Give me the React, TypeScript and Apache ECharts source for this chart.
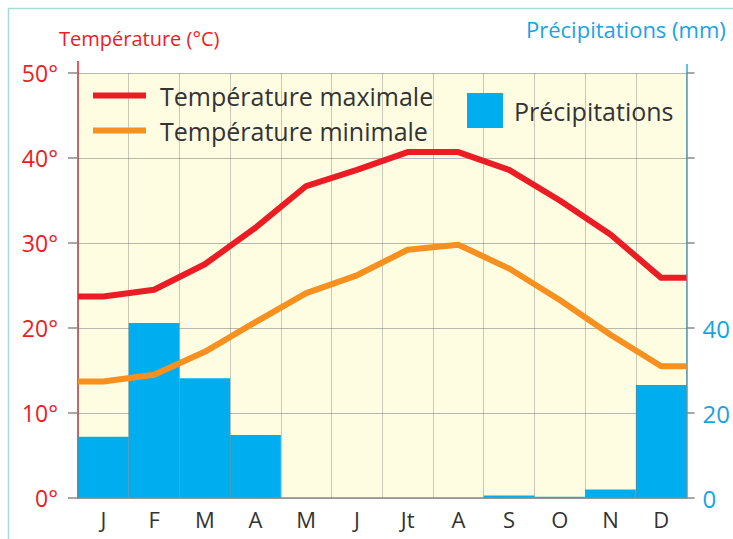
import React, { useEffect, useRef } from "react";
import * as echarts from "echarts";

const months = ["J", "F", "M", "A", "M", "J", "Jt", "A", "S", "O", "N", "D"];
const tempMax = [23.7, 24.5, 27.5, 31.8, 36.7, 38.6, 40.7, 40.7, 38.6, 35.0, 31.0, 25.9];
const tempMin = [13.7, 14.5, 17.2, 20.7, 24.1, 26.2, 29.2, 29.8, 27.0, 23.3, 19.2, 15.5];
const precip = [14.4, 41.2, 28.2, 14.8, 0, 0, 0, 0, 0.6, 0.3, 2.0, 26.6];
const tempTicks = [0, 10, 20, 30, 40, 50];
const precipLabels = [0, 20, 40];

const RED = "#ec1c24";
const ORANGE = "#f7901e";
const BLUE = "#00aeef";
const FONT = "Open Sans";

// line points at month centres, extended flat to the plot edges
function linePoints(vals: number[]) {
  const pts: number[][] = vals.map((v, i) => [i + 0.5, v]);
  return [[0, vals[0]], ...pts, [vals.length, vals[vals.length - 1]]];
}

export default function App() {
  const ref = useRef<HTMLDivElement>(null);
  useEffect(() => {
    if (!ref.current) return;
    const chart = echarts.init(ref.current, null, { renderer: "svg" });
    chart.setOption({
      animation: false,
      backgroundColor: "#ffffff",
      textStyle: { fontFamily: FONT },
      grid: {
        left: 78,
        right: 46,
        top: 73,
        bottom: 41,
        show: true,
        backgroundColor: "#fefde2",
        borderWidth: 0,
      },
      legend: [
        {
          data: ["Température maximale", "Température minimale"],
          orient: "vertical",
          left: 93,
          top: 83,
          padding: 0,
          icon: "rect",
          itemWidth: 53,
          itemHeight: 6,
          itemGap: 10,
          textStyle: { fontFamily: FONT, fontSize: 25, color: "#333", padding: [0, 0, 0, 9] },
        },
        {
          data: ["Précipitations"],
          left: 467,
          top: 93,
          padding: 0,
          icon: "rect",
          itemWidth: 36,
          itemHeight: 35,
          textStyle: { fontFamily: FONT, fontSize: 25, color: "#333", padding: [0, 0, 0, 6] },
        },
      ],
      xAxis: [
        {
          type: "category",
          data: months,
          boundaryGap: true,
          z: 3,
          axisLine: { show: true, lineStyle: { color: "#8a8a8a", width: 1.5 } },
          axisTick: { show: false },
          axisLabel: { color: "#333", fontSize: 22, margin: 10, fontFamily: FONT },
          splitLine: { show: true, lineStyle: { color: "rgba(120,120,120,0.4)", width: 1 } },
        },
        {
          type: "value",
          min: 0,
          max: months.length,
          show: false,
        },
      ],
      yAxis: [
        {
          type: "value",
          position: "left",
          min: tempTicks[0],
          max: tempTicks[tempTicks.length - 1],
          interval: 10,
          z: 1,
          axisLine: { show: true, lineStyle: { color: RED, width: 1.5 } },
          axisTick: { show: true, length: 10, lineStyle: { color: "#8a8a8a", width: 1.5 } },
          axisLabel: {
            color: RED,
            fontSize: 23,
            margin: 20,
            fontFamily: FONT,
            formatter: (v: number) => v + "°",
          },
          splitLine: { show: true, lineStyle: { color: "#b8b8b0", width: 1.2 } },
        },
        {
          type: "value",
          position: "right",
          min: 0,
          max: 100,
          interval: 20,
          z: 1,
          axisLine: { show: true, lineStyle: { color: "#29abe2", width: 1.5 } },
          axisTick: { show: true, length: 8, lineStyle: { color: "#8a8a8a", width: 1.5 } },
          axisLabel: {
            color: "#1aa3e0",
            fontSize: 24,
            margin: 16,
            fontFamily: FONT,
            formatter: (v: number) => (precipLabels.indexOf(v) >= 0 ? String(v) : ""),
          },
          splitLine: { show: false },
        },
      ],
      series: [
        {
          name: "Précipitations",
          type: "bar",
          xAxisIndex: 0,
          yAxisIndex: 1,
          data: precip,
          barWidth: "100%",
          barCategoryGap: 0,
          z: 2,
          itemStyle: { color: BLUE },
        },
        {
          name: "Température maximale",
          type: "line",
          xAxisIndex: 1,
          yAxisIndex: 0,
          data: linePoints(tempMax),
          showSymbol: false,
          symbol: "none",
          z: 5,
          lineStyle: { color: RED, width: 6, join: "round" },
          itemStyle: { color: RED },
        },
        {
          name: "Température minimale",
          type: "line",
          xAxisIndex: 1,
          yAxisIndex: 0,
          data: linePoints(tempMin),
          showSymbol: false,
          symbol: "none",
          z: 5,
          lineStyle: { color: ORANGE, width: 6, join: "round" },
          itemStyle: { color: ORANGE },
        },
      ],
      graphic: [
        {
          type: "rect",
          shape: { x: 8.5, y: 8.5, width: 760, height: 560 },
          style: { fill: "none", stroke: "#a6dcd6", lineWidth: 1.5 },
          silent: true,
        },
        {
          type: "line",
          shape: { x1: 78, y1: 61, x2: 78, y2: 74 },
          style: { stroke: RED, lineWidth: 1.5 },
        },
        {
          type: "line",
          shape: { x1: 687, y1: 64, x2: 687, y2: 74 },
          style: { stroke: "#29abe2", lineWidth: 1.5 },
        },
        {
          type: "text",
          left: 59,
          top: 28,
          style: { text: "Température (°C)", fill: RED, fontSize: 20, fontFamily: FONT },
        },
        {
          type: "text",
          left: 526,
          top: 18,
          style: { text: "Précipitations (mm)", fill: "#1aa3e0", fontSize: 22, fontFamily: FONT },
        },
      ],
    });
    return () => chart.dispose();
  }, []);
  return (
    <div
      ref={ref}
      style={{ position: "fixed", left: 0, top: 0, width: 733, height: 539 }}
    />
  );
}
